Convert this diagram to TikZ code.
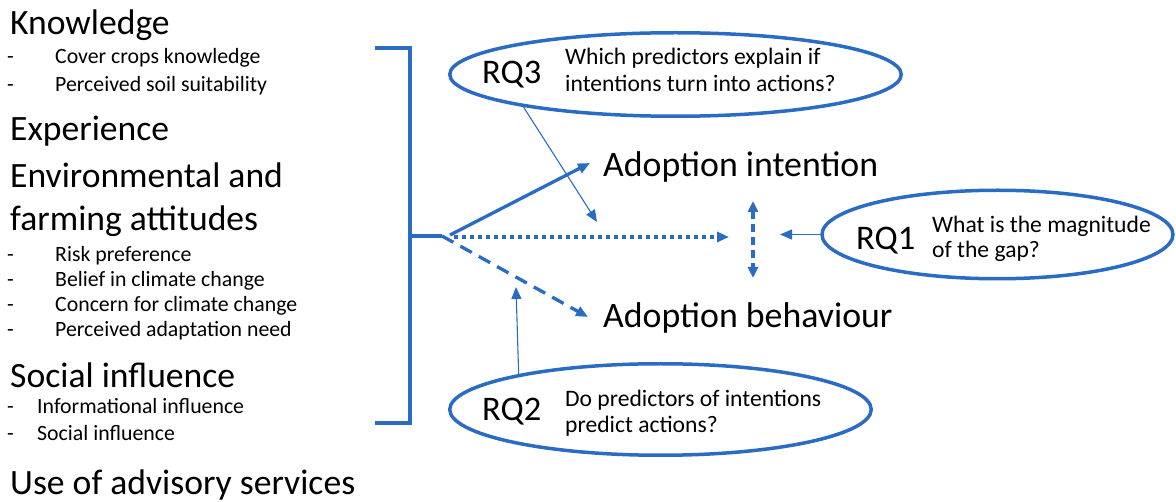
\documentclass[tikz,border=0pt]{standalone}
\usepackage{fontspec}
\setmainfont{Carlito}
\usetikzlibrary{arrows.meta,shapes.geometric}
\definecolor{linkblue}{RGB}{42,108,196}

\begin{document}
\begin{tikzpicture}[x=1pt,y=-1pt,
  heading/.style={anchor=base west, inner sep=0pt, font=\fontsize{35.6}{42}\selectfont},
  item/.style={anchor=base west, inner sep=0pt, font=\fontsize{21.8}{26}\selectfont},
  outcome/.style={anchor=base west, inner sep=0pt, font=\fontsize{35.8}{42}\selectfont},
  rqlabel/.style={anchor=base west, inner sep=0pt, font=\fontsize{34.5}{42}\selectfont},
  question/.style={anchor=base west, inner sep=0pt, font=\fontsize{23.6}{28}\selectfont},
  rqoval/.style={draw=linkblue, line width=3.5pt, ellipse, inner sep=0pt},
  blueline/.style={draw=linkblue, line width=3.3pt},
  thinline/.style={draw=linkblue, line width=1.1pt},
  tipend/.style={-{Triangle[length=12pt,width=10pt]}},
  tipboth/.style={{Triangle[length=11pt,width=10pt]}-{Triangle[length=11pt,width=10pt]}},
]
\useasboundingbox (0,0) rectangle (1176,502);

% ---- predictor groups -------------------------------------------------
\node[heading] (know) at (10,35) {Knowledge};
\node[item] (k1d) at (7,64) {-};
\node[item] (k1) at (55,64) {Cover crops knowledge};
\node[item] (k2d) at (7,92) {-};
\node[item] (k2) at (55,92) {Perceived soil suitability};

\node[heading] (exp) at (10,141) {Experience};

\node[heading] (env1) at (10,188) {Environmental and};
\node[heading] (env2) at (10,231) {farming attitudes};
\node[item] (e1d) at (7,262) {-};
\node[item] (e1) at (55,262) {Risk preference};
\node[item] (e2d) at (7,287) {-};
\node[item] (e2) at (55,287) {Belief in climate change};
\node[item] (e3d) at (7,312) {-};
\node[item] (e3) at (55,312) {Concern for climate change};
\node[item] (e4d) at (7,337) {-};
\node[item] (e4) at (55,337) {Perceived adaptation need};

\node[heading] (soc) at (10,388) {Social influence};
\node[item] (s1d) at (7,414) {-};
\node[item] (s1) at (37,414) {Informational influence};
\node[item] (s2d) at (7,441) {-};
\node[item] (s2) at (37,441) {Social influence};

\node[heading] (adv) at (10,494) {Use of advisory services};

% ---- bracket gathering the predictors ---------------------------------
\coordinate (brTop) at (375,48);
\coordinate (brBot) at (375,423);
\coordinate (brMid) at (410,236);
\coordinate (junction) at (442,236);
\draw[blueline] (brTop) -| (brMid) |- (brBot);
\draw[blueline] (brMid) -- (junction);

% ---- outcomes ----------------------------------------------------------
\node[outcome] (ai) at (603,177) {Adoption intention};
\node[outcome] (ab) at (603,328) {Adoption behaviour};
\coordinate (aiIn) at ([xshift=-13pt,yshift=14pt]ai.base west);
\coordinate (abIn) at ([xshift=-15pt,yshift=11pt]ab.base west);

\coordinate (gapL) at (729,237);
\coordinate (gapTop) at (753,201);
\coordinate (gapBot) at (753,278);

\draw[blueline, tipend] ([xshift=8pt,yshift=1pt]junction) -- (aiIn);
\draw[blueline, tipend, dash pattern=on 4pt off 4pt] ([xshift=12pt,yshift=-1pt]junction) -- (gapL);
\draw[blueline, tipend, dash pattern=on 13pt off 8pt] (junction) -- (abIn);
\draw[blueline, tipboth, dash pattern=on 8pt off 5pt] (gapTop) -- (gapBot);

% ---- research questions -----------------------------------------------
\node[rqoval, minimum width=451.5pt, minimum height=83.5pt] (rq3) at (675.5,74.5) {};
\node[rqlabel] (rq3l) at (482,84) {RQ3};
\node[question] (rq3a) at (565,65) {Which predictors explain if};
\node[question] (rq3b) at (565,92) {intentions turn into actions?};

\node[rqoval, minimum width=351pt, minimum height=88.5pt] (rq1) at (997.5,234.5) {};
\node[rqlabel] (rq1l) at (856,250) {RQ1};
\node[question] (rq1a) at (932,233) {What is the magnitude};
\node[question] (rq1b) at (932,258) {of the gap?};

\node[rqoval, minimum width=421.5pt, minimum height=91.5pt] (rq2) at (660.5,409.5) {};
\node[rqlabel] (rq2l) at (482,421) {RQ2};
\node[question] (rq2a) at (565,407) {Do predictors of intentions};
\node[question] (rq2b) at (565,433) {predict actions?};

\coordinate (rq3Hit) at (597,222);
\coordinate (rq2Hit) at (516,287);
\coordinate (rq1Hit) at (780,236);

\draw[thinline, tipend] (rq3.192) -- (rq3Hit);
\draw[thinline, tipend] (rq2.166) -- (rq2Hit);
\draw[thinline, tipend] (rq1.west) -- (rq1.west -| rq1Hit);
\end{tikzpicture}
\end{document}
